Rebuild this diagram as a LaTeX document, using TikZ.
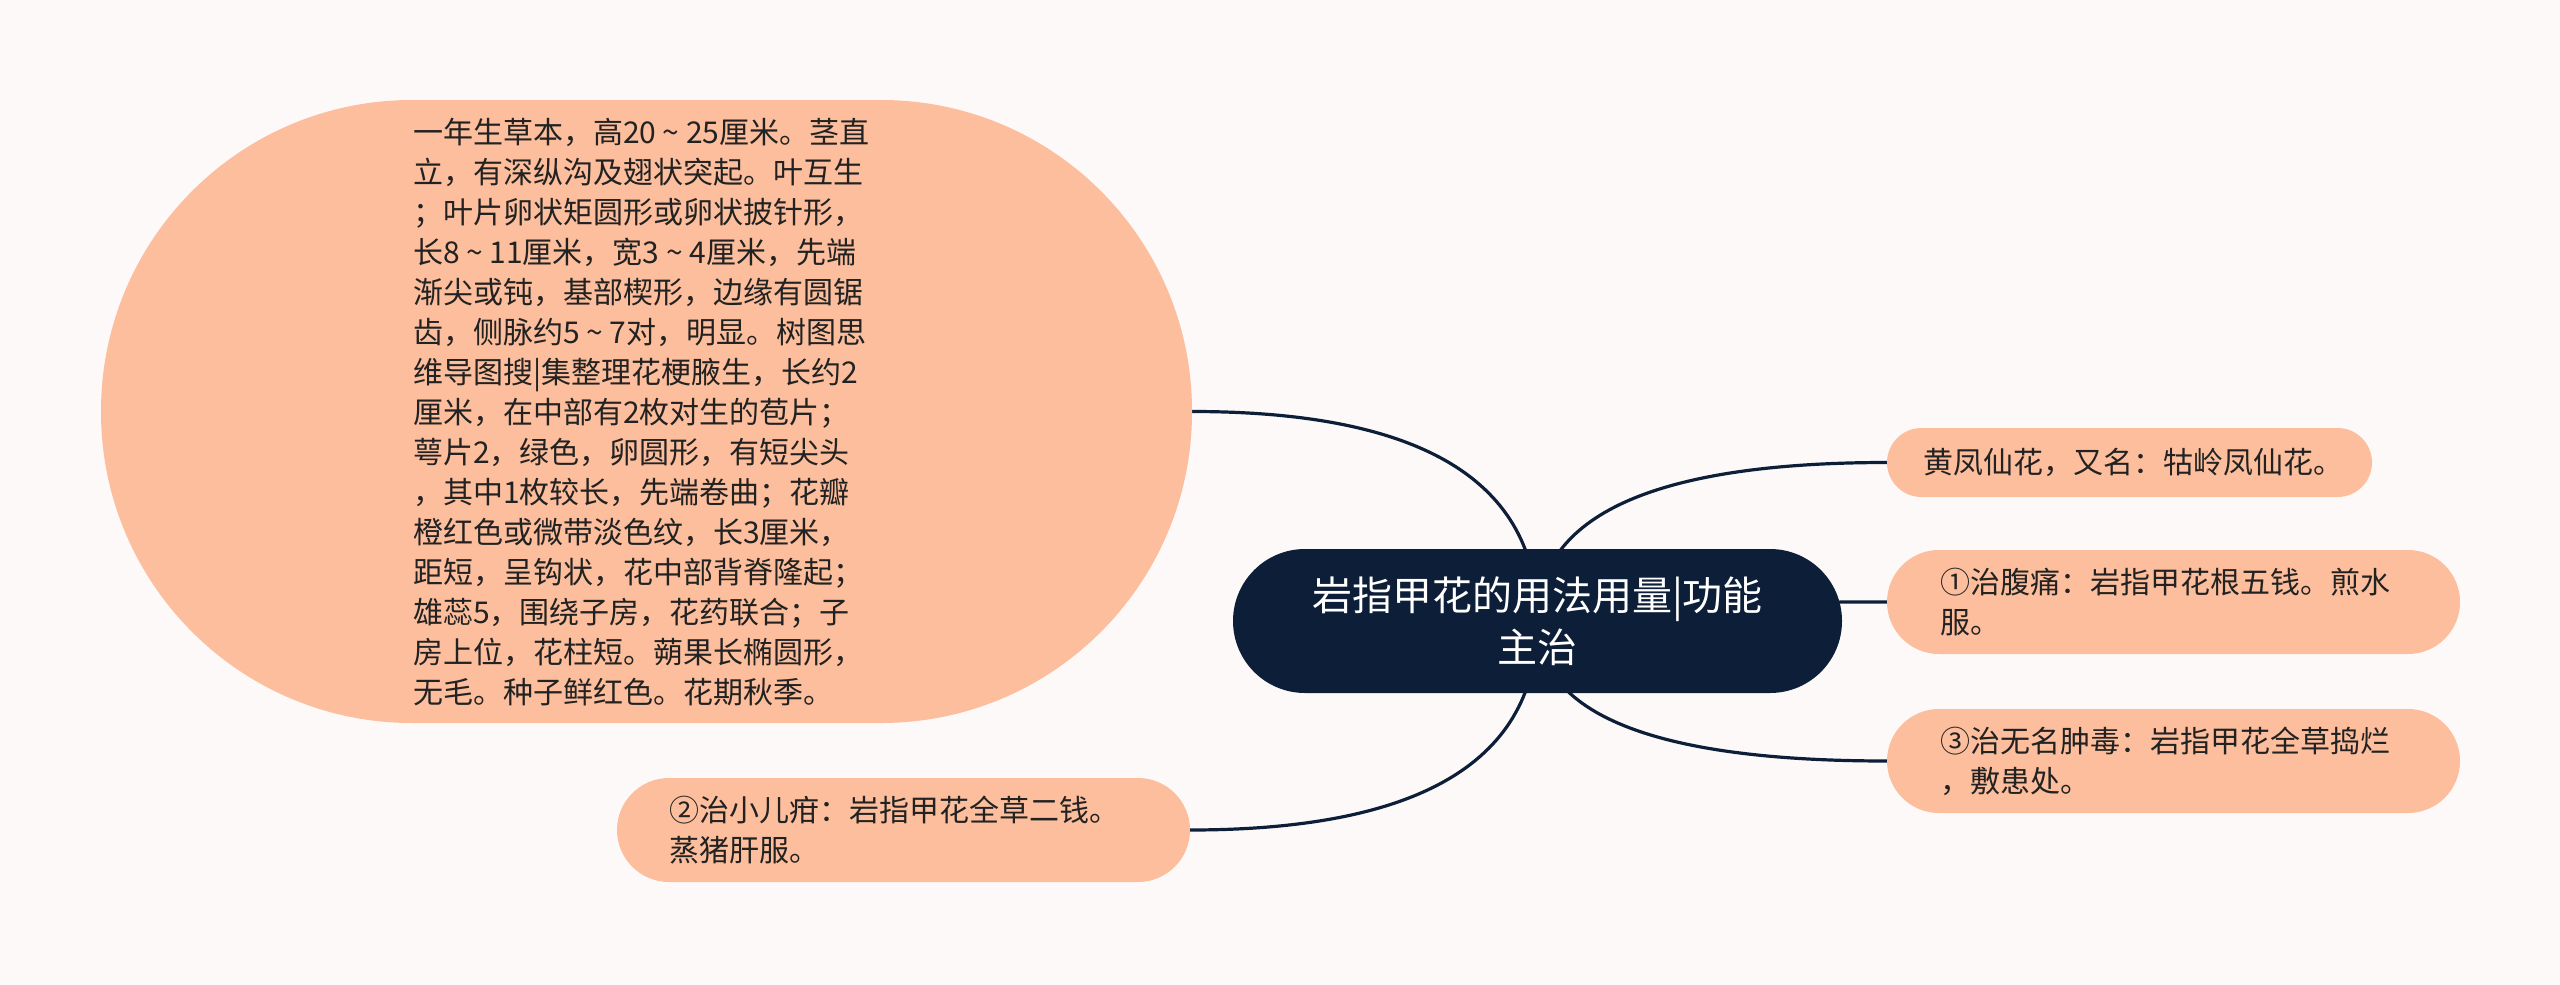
\documentclass[tikz,border=0pt]{standalone}
\usepackage{fontspec}
\setmainfont{Noto Sans CJK SC}
\usetikzlibrary{calc}
\definecolor{bgc}{RGB}{253,249,248}
\definecolor{peach}{RGB}{252,190,156}
\definecolor{navy}{RGB}{13,31,56}
\definecolor{ink}{RGB}{34,34,34}
\pgfdeclarelayer{back}
\pgfdeclarelayer{lines}
\pgfsetlayers{back,lines,main}
\tikzset{
  box/.style={fill=peach, draw=none, inner sep=0pt, outer sep=0pt},
  topic/.style={fill=navy, draw=none, inner sep=0pt, outer sep=0pt},
  txt/.style={inner sep=0pt, outer sep=0pt, anchor=north west, align=left, text=ink, font=\fontsize{30}{40}\selectfont},
  toptxt/.style={inner sep=0pt, outer sep=0pt, anchor=north, align=center, text=white, font=\fontsize{40}{52}\selectfont},
  conn/.style={draw=navy, line width=3.2pt}
}
\newcommand{\fst}{\rule{0pt}{32pt}}
\newcommand{\tld}{\makebox[30pt][c]{\char"7E}}
\begin{document}
\begin{tikzpicture}[x=1pt,y=-1pt]
\useasboundingbox (0,0) rectangle (2560,985);
\begin{pgfonlayer}{back}
\fill[bgc] (0,0) rectangle (2560,985);
\end{pgfonlayer}
% boxes
\node[box, minimum width=1091pt, minimum height=623pt, rounded corners=311pt] (big) at (646.5,411.5) {};
\node[box, minimum width=485pt, minimum height=69pt, rounded corners=34.5pt] (A) at (2129.5,462.5) {};
\node[box, minimum width=573pt, minimum height=104pt, rounded corners=52pt] (B) at (2173.5,602) {};
\node[box, minimum width=573pt, minimum height=104pt, rounded corners=52pt] (C) at (2173.5,761) {};
\node[box, minimum width=573pt, minimum height=104pt, rounded corners=52pt] (D) at (903.5,830) {};
\node[topic, minimum width=609pt, minimum height=144pt, rounded corners=72pt] (M) at (1537.5,621) {};
% texts
\node[txt] (bigt) at (413,111.4) {\fst 一年生草本，高20\tld 25厘米。茎直\\立，有深纵沟及翅状突起。叶互生\\；叶片卵状矩圆形或卵状披针形，\\长8\tld 11厘米，宽3\tld 4厘米，先端\\渐尖或钝，基部楔形，边缘有圆锯\\齿，侧脉约5\tld 7对，明显。树图思\\维导图搜|集整理花梗腋生，长约2\\厘米，在中部有2枚对生的苞片；\\萼片2，绿色，卵圆形，有短尖头\\，其中1枚较长，先端卷曲；花瓣\\橙红色或微带淡色纹，长3厘米，\\距短，呈钩状，花中部背脊隆起；\\雄蕊5，围绕子房，花药联合；子\\房上位，花柱短。蒴果长椭圆形，\\无毛。种子鲜红色。花期秋季。};
\node[txt] (At) at (1923,441.9) {\fst 黄凤仙花，又名：牯岭凤仙花。};
\node[txt] (Bt) at (1940,561.4) {\fst ①治腹痛：岩指甲花根五钱。煎水\\服。};
\node[txt] (Ct) at (1940,720.4) {\fst ③治无名肿毒：岩指甲花全草捣烂\\，敷患处。};
\node[txt] (Dt) at (669,789.4) {\fst ②治小儿疳：岩指甲花全草二钱。\\蒸猪肝服。};
\node[toptxt] (Mt) at (1537.5,567.2) {\rule{0pt}{43pt}岩指甲花的用法用量|功能\\主治};
% connectors
\begin{pgfonlayer}{lines}
\draw[conn] (M.center) .. controls ($(M.center)!2/3!(M.center|-big.east)$) and ($(big.east)!2/3!(M.center|-big.east)$) .. (big.east);
\draw[conn] (M.center) .. controls ($(M.center)!2/3!(M.center|-A.west)$) and ($(A.west)!2/3!(M.center|-A.west)$) .. (A.west);
\draw[conn] (M.center) .. controls ($(M.center)!2/3!(M.center|-B.west)$) and ($(B.west)!2/3!(M.center|-B.west)$) .. (B.west);
\draw[conn] (M.center) .. controls ($(M.center)!2/3!(M.center|-C.west)$) and ($(C.west)!2/3!(M.center|-C.west)$) .. (C.west);
\draw[conn] (M.center) .. controls ($(M.center)!2/3!(M.center|-D.east)$) and ($(D.east)!2/3!(M.center|-D.east)$) .. (D.east);
\end{pgfonlayer}
\end{tikzpicture}
\end{document}
